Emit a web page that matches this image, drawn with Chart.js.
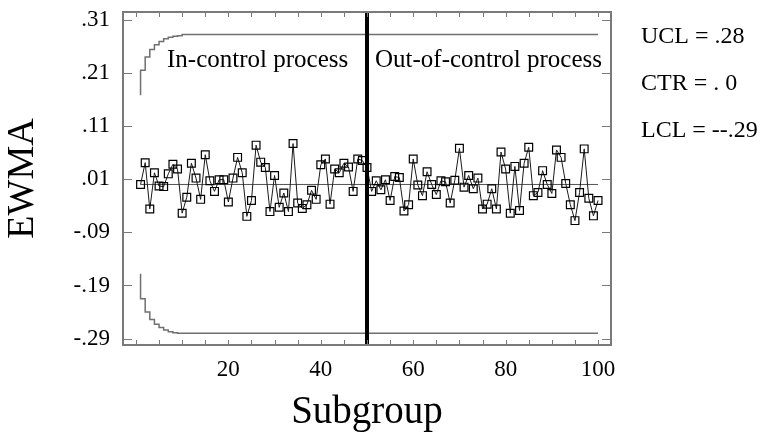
<!DOCTYPE html>
<html>
<head>
<meta charset="utf-8">
<script src="https://cdn.jsdelivr.net/npm/chart.js@4.4.0/dist/chart.umd.min.js"></script>
<style>
  html, body { margin: 0; padding: 0; background: #fff; }
</style>
</head>
<body>
<canvas id="ewma-chart" width="774" height="436"></canvas>
<script>
  // EWMA statistic per subgroup
  const ewma = [
    0.000, 0.041, -0.046, 0.022, -0.003, -0.004, 0.020, 0.038, 0.029, -0.054,
    -0.024, 0.040, 0.012, -0.028, 0.056, 0.007, -0.013, 0.009, 0.009, -0.033,
    0.012, 0.051, 0.022, -0.060, -0.030, 0.074, 0.042, 0.032, -0.051, 0.017,
    -0.043, -0.016, -0.051, 0.077, -0.035, -0.045, -0.038, -0.011, -0.028, 0.037,
    0.048, -0.037, 0.029, 0.022, 0.040, 0.033, -0.013, 0.048, 0.045, 0.032,
    -0.013, 0.007, -0.010, 0.009, -0.030, 0.015, 0.013, -0.050, -0.038, 0.048,
    -0.001, -0.021, 0.024, 0.000, -0.019, 0.007, 0.005, -0.035, 0.008, 0.068,
    -0.005, 0.017, -0.008, 0.012, -0.046, -0.037, -0.008, -0.046, 0.061, 0.029,
    -0.054, 0.034, -0.049, 0.040, 0.070, -0.021, -0.015, 0.026, 0.000, -0.017,
    0.065, 0.051, 0.002, -0.038, -0.068, -0.015, 0.067, -0.026, -0.059, -0.030
  ];
  const subgroups = ewma.map((_, i) => i + 1);

  // control limits: start-up steps, then the steady value
  const uclStartup = [0.168, 0.215, 0.240, 0.254, 0.263, 0.269, 0.274, 0.277, 0.279, 0.280];
  const uclSteady = 0.282;
  const lclStartup = [-0.168, -0.215, -0.240, -0.254, -0.263, -0.269, -0.274, -0.277, -0.279, -0.280];
  const lclSteady = -0.280;
  const center = 0;
  const shiftAt = 50;

  // axes
  const xRange = [-2.8, 102.8];
  const yRange = [-0.302, 0.3245];
  const xTickValues = [0, 5, 10, 15, 20, 25, 30, 35, 40, 45, 50, 55, 60, 65, 70, 75, 80, 85, 90, 95, 100];
  const xTickLabels = { 20: "20", 40: "40", 60: "60", 80: "80", 100: "100" };
  const yTickValues = [0.31, 0.21, 0.11, 0.01, -0.09, -0.19, -0.29];
  const yTickLabels = [".31", ".21", ".11", ".01", "-.09", "-.19", "-.29"];

  // texts
  const phaseLabels = ["In-control process", "Out-of-control process"];
  const limitLabels = ["UCL = .28", "CTR = . 0", "LCL = --.29"];

  const SERIF = "'Liberation Serif', 'Times New Roman', serif";

  const limitPoints = (startup, steady) =>
    subgroups.map((s, i) => ({ x: s, y: i < startup.length ? startup[i] : steady }));

  // frame with inward ticks, phase labels and the limit summary on the right
  const framePlugin = {
    id: "frame",
    afterDraw(chart) {
      const { ctx, chartArea: a, scales } = chart;
      const x = scales.x, y = scales.y;
      ctx.save();
      ctx.strokeStyle = "#7a7a7a";
      ctx.lineWidth = 2;
      ctx.strokeRect(a.left, a.top, a.right - a.left, a.bottom - a.top);

      ctx.lineWidth = 1;
      ctx.beginPath();
      xTickValues.forEach((v) => {
        const px = Math.round(x.getPixelForValue(v)) + 0.5;
        ctx.moveTo(px, a.bottom);
        ctx.lineTo(px, a.bottom - 5);
        ctx.moveTo(px, a.top);
        ctx.lineTo(px, a.top + 5);
      });
      yTickValues.forEach((v) => {
        const py = Math.round(y.getPixelForValue(v)) + 0.5;
        ctx.moveTo(a.left, py);
        ctx.lineTo(a.left + 9, py);
        ctx.moveTo(a.right, py);
        ctx.lineTo(a.right - 9, py);
      });
      ctx.stroke();

      ctx.fillStyle = "#000";
      ctx.textBaseline = "alphabetic";
      ctx.font = "25px " + SERIF;
      ctx.textAlign = "left";
      ctx.fillText(phaseLabels[0], a.left + 44, a.top + 55);
      ctx.fillText(phaseLabels[1], x.getPixelForValue(shiftAt) + 8, a.top + 55);

      ctx.font = "24px " + SERIF;
      limitLabels.forEach((t, i) => {
        ctx.fillText(t, a.right + 30, 43 + i * 47);
      });
      ctx.restore();
    },
  };

  const createChart = (ctx) => {
    return new Chart(ctx, {
      type: "line",
      data: {
        datasets: [
          {
            label: "shift",
            data: [{ x: shiftAt, y: yRange[0] }, { x: shiftAt, y: yRange[1] }],
            borderColor: "#000",
            borderWidth: 4,
            pointRadius: 0,
          },
          {
            label: "EWMA",
            data: subgroups.map((s, i) => ({ x: s, y: ewma[i] })),
            borderColor: "#1a1a1a",
            borderWidth: 1,
            pointStyle: "rect",
            pointRadius: 5.5,
            pointBorderWidth: 1.2,
            pointBorderColor: "#000",
            pointBackgroundColor: "rgba(0,0,0,0)",
          },
          {
            label: "CTR",
            data: [{ x: subgroups[0], y: center }, { x: subgroups[subgroups.length - 1], y: center }],
            borderColor: "#555",
            borderWidth: 1,
            pointRadius: 0,
          },
          {
            label: "UCL",
            data: limitPoints(uclStartup, uclSteady),
            stepped: "after",
            borderColor: "#707070",
            borderWidth: 1.5,
            pointRadius: 0,
          },
          {
            label: "LCL",
            data: limitPoints(lclStartup, lclSteady),
            stepped: "after",
            borderColor: "#707070",
            borderWidth: 1.5,
            pointRadius: 0,
          },
        ],
      },
      options: {
        responsive: false,
        animation: false,
        devicePixelRatio: 1,
        layout: { padding: { top: 12, right: 163, left: 0, bottom: 0 } },
        plugins: { legend: { display: false }, tooltip: { enabled: false } },
        scales: {
          x: {
            type: "linear",
            min: xRange[0],
            max: xRange[1],
            afterBuildTicks: (scale) => {
              scale.ticks = xTickValues.map((v) => ({ value: v }));
            },
            afterFit: (scale) => {
              scale.height = 91;
              scale.paddingLeft = 0;
              scale.paddingRight = 0;
            },
            ticks: {
              autoSkip: false,
              maxRotation: 0,
              padding: 11,
              color: "#000",
              font: { family: SERIF, size: 23 },
              callback: (v) => xTickLabels[v] || "",
            },
            grid: { display: false, drawTicks: false },
            border: { display: false },
            title: {
              display: true,
              text: "Subgroup",
              color: "#000",
              font: { family: SERIF, size: 39 },
              padding: { top: 0, bottom: 0 },
            },
          },
          y: {
            type: "linear",
            min: yRange[0],
            max: yRange[1],
            afterBuildTicks: (scale) => {
              scale.ticks = yTickValues.map((v) => ({ value: v }));
            },
            afterFit: (scale) => {
              scale.width = 123;
              scale.paddingTop = 0;
              scale.paddingBottom = 0;
            },
            ticks: {
              padding: 13,
              color: "#000",
              font: { family: SERIF, size: 23 },
              callback: (v) => yTickLabels[yTickValues.indexOf(v)],
            },
            grid: { display: false, drawTicks: false },
            border: { display: false },
            title: {
              display: true,
              text: "EWMA",
              color: "#000",
              font: { family: SERIF, size: 38 },
              padding: { top: 0, bottom: 0 },
            },
          },
        },
      },
      plugins: [framePlugin],
    });
  };

  const initEwmaChart = () => {
    const ctx = document.getElementById("ewma-chart").getContext("2d");
    createChart(ctx);
  };

  document.addEventListener("DOMContentLoaded", initEwmaChart);
</script>
</body>
</html>
